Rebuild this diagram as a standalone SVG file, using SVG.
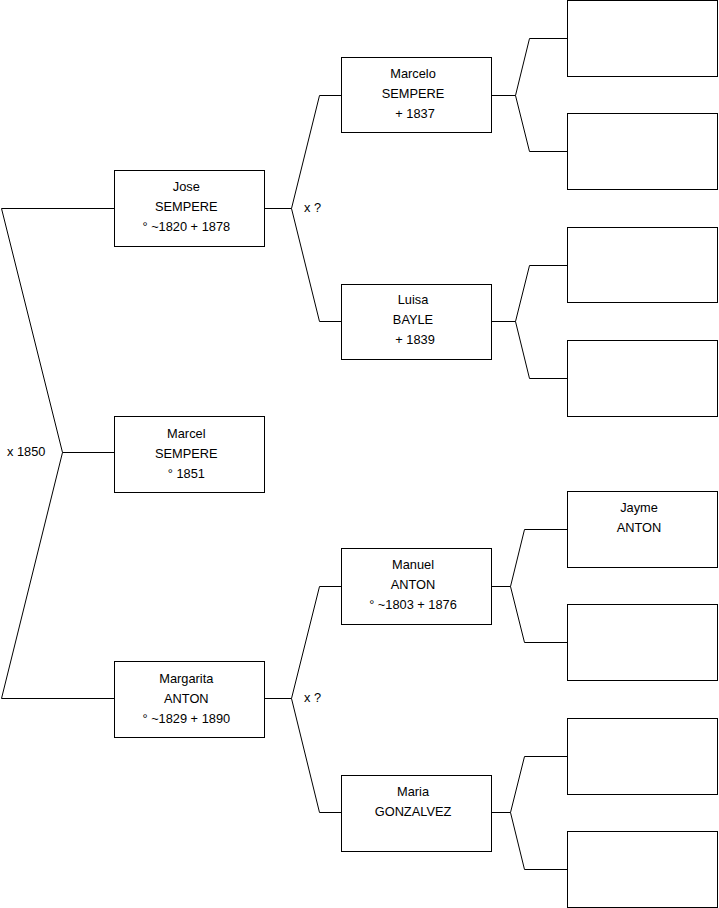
<svg xmlns="http://www.w3.org/2000/svg" width="719" height="908" viewBox="0 0 719 908">
<style>
.box{fill:#fff;stroke:#000;stroke-width:1}
.ln{fill:none;stroke:#000;stroke-width:1}
text{font-family:"Liberation Sans",Arial,sans-serif;font-size:12.8px;fill:#000}
.c{text-anchor:middle}
</style>
<rect width="719" height="908" fill="#fff"/>
<g id="connectors">
<polyline class="ln" points="114,208.5 1.5,208.5 62.5,452.5 1.5,698.5 114,698.5"/>
<line class="ln" x1="62.5" y1="452.5" x2="114" y2="452.5"/>
<polyline class="ln" points="265,208.5 291.5,208.5"/>
<polyline class="ln" points="341,95.5 319.5,95.5 291.5,208.5 319.5,321.5 341,321.5"/>
<polyline class="ln" points="265,698.5 291.5,698.5"/>
<polyline class="ln" points="341,586.5 319.5,586.5 291.5,698.5 319.5,812.5 341,812.5"/>
<line class="ln" x1="491" y1="95.5" x2="515.5" y2="95.5"/>
<polyline class="ln" points="567,38.5 529.5,38.5 515.5,95.5 529.5,151.5 567,151.5"/>
<line class="ln" x1="491" y1="321.5" x2="515.5" y2="321.5"/>
<polyline class="ln" points="567,265.5 529.5,265.5 515.5,321.5 529.5,378.5 567,378.5"/>
<line class="ln" x1="491" y1="586.5" x2="510.5" y2="586.5"/>
<polyline class="ln" points="567,529.5 524.5,529.5 510.5,586.5 524.5,642.5 567,642.5"/>
<line class="ln" x1="491" y1="812.5" x2="510.5" y2="812.5"/>
<polyline class="ln" points="567,756.5 524.5,756.5 510.5,812.5 524.5,869.5 567,869.5"/>
<text x="304" y="212">x ?</text>
<text x="304" y="702">x ?</text>
<text x="7" y="456">x 1850</text>
</g>
<g id="jose"><rect class="box" x="114.5" y="170.5" width="150" height="76"/>
<text class="c" x="186.3" y="191">Jose</text><text class="c" x="186.3" y="211">SEMPERE</text><text class="c" x="186.3" y="231">° ~1820 + 1878</text></g>
<g id="marcel"><rect class="box" x="114.5" y="416.5" width="150" height="76"/>
<text class="c" x="186.3" y="437.5">Marcel</text><text class="c" x="186.3" y="457.5">SEMPERE</text><text class="c" x="186.3" y="477.5">° 1851</text></g>
<g id="margarita"><rect class="box" x="114.5" y="661.5" width="150" height="76"/>
<text class="c" x="186.3" y="682.5">Margarita</text><text class="c" x="186.3" y="702.5">ANTON</text><text class="c" x="186.3" y="722.5">° ~1829 + 1890</text></g>
<g id="marcelo"><rect class="box" x="341.5" y="57.5" width="150" height="75"/>
<text class="c" x="413" y="78">Marcelo</text><text class="c" x="413" y="98">SEMPERE</text><text class="c" x="415" y="118">+ 1837</text></g>
<g id="luisa"><rect class="box" x="341.5" y="284.5" width="150" height="75"/>
<text class="c" x="413" y="304">Luisa</text><text class="c" x="413" y="324">BAYLE</text><text class="c" x="415" y="344">+ 1839</text></g>
<g id="manuel"><rect class="box" x="341.5" y="548.5" width="150" height="76"/>
<text class="c" x="413" y="569">Manuel</text><text class="c" x="413" y="589">ANTON</text><text class="c" x="413" y="609">° ~1803 + 1876</text></g>
<g id="maria"><rect class="box" x="341.5" y="775.5" width="150" height="76"/>
<text class="c" x="413" y="796">Maria</text><text class="c" x="413" y="816">GONZALVEZ</text></g>
<g id="p1"><rect class="box" x="567.5" y="0.5" width="150" height="76"/></g>
<g id="p2"><rect class="box" x="567.5" y="113.5" width="150" height="76"/></g>
<g id="p3"><rect class="box" x="567.5" y="227.5" width="150" height="75"/></g>
<g id="p4"><rect class="box" x="567.5" y="340.5" width="150" height="76"/></g>
<g id="jayme"><rect class="box" x="567.5" y="491.5" width="150" height="76"/>
<text class="c" x="639" y="512">Jayme</text><text class="c" x="639" y="532">ANTON</text></g>
<g id="p6"><rect class="box" x="567.5" y="604.5" width="150" height="76"/></g>
<g id="p7"><rect class="box" x="567.5" y="718.5" width="150" height="76"/></g>
<g id="p8"><rect class="box" x="567.5" y="831.5" width="150" height="76"/></g>
</svg>
